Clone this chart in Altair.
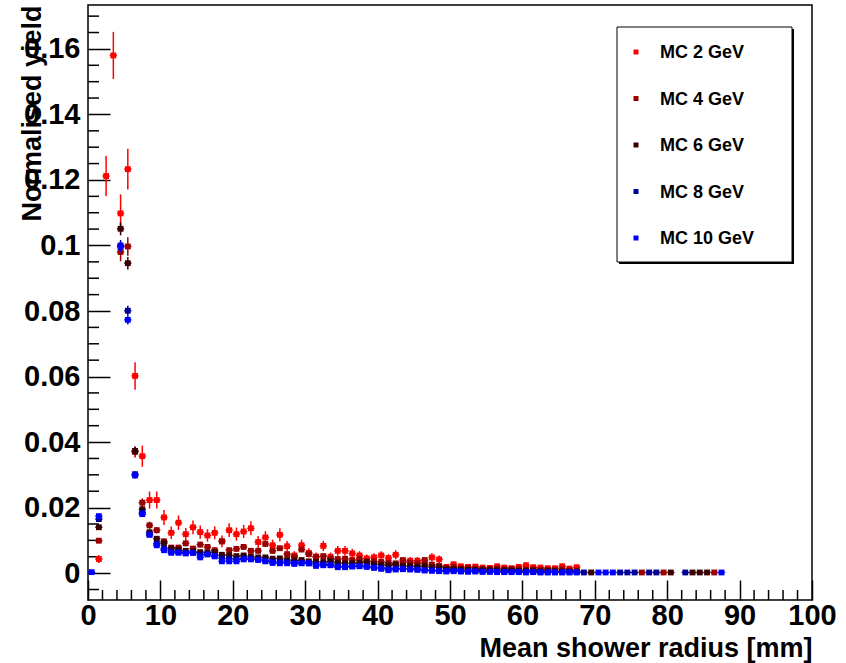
import altair as alt
import pandas as pd

# ---------------- data ----------------
# 1 mm bins, lower edge of each bin in mm
bin_lo = list(range(88))

series_names = ["MC 2 GeV", "MC 4 GeV", "MC 6 GeV", "MC 8 GeV", "MC 10 GeV"]
series_colors = ["#ff0000", "#990000", "#3a0000", "#000099", "#0000ff"]

N = None
y_2gev = [N, 0.0043, 0.1212, 0.1580, 0.1098, 0.1233, 0.0602, 0.0357, 0.0223, 0.0223,
          0.0170, 0.0123, 0.0154, 0.0119, 0.0140, 0.0125, 0.0115, 0.0123, 0.0097, 0.0131,
          0.0119, 0.0127, 0.0137, 0.0095, 0.0109, 0.0085, 0.0117, 0.0082, 0.0054, 0.0085,
          0.0062, 0.0050, 0.0083, 0.0050, 0.0068, 0.0068, 0.0060, 0.0054, 0.0045, 0.0048,
          0.0054, 0.0046, 0.0056, 0.0034, 0.0038, 0.0038, 0.0032, 0.0048, 0.0042, 0.0019,
          0.0027, 0.0021, 0.0019, 0.0020, 0.0017, 0.0016, 0.0021, 0.0017, 0.0015, 0.0019,
          0.0024, 0.0018, 0.0017, 0.0015, 0.0015, 0.0021, 0.0014, 0.0018, N, N,
          N, N, N, N, N, N, N, N, N, N,
          N, N, N, N, N, N, N, N]
e_2gev = [N, 0.0012, 0.0061, 0.0072, 0.0058, 0.0062, 0.0042, 0.0032, 0.0026, 0.0026,
          0.0023, 0.0019, 0.0022, 0.0019, 0.0021, 0.0020, 0.0019, 0.0020, 0.0018, 0.0021,
          0.0020, 0.0020, 0.0021, 0.0018, 0.0019, 0.0017, 0.0020, 0.0016, 0.0013, 0.0017,
          0.0014, 0.0013, 0.0016, 0.0013, 0.0015, 0.0015, 0.0014, 0.0013, 0.0012, 0.0013,
          0.0013, 0.0012, 0.0014, 0.0011, 0.0011, 0.0011, 0.0010, 0.0013, 0.0012, 0.0008,
          0.0009, 0.0008, 0.0008, 0.0008, 0.0008, 0.0007, 0.0008, 0.0007, 0.0007, 0.0008,
          0.0009, 0.0008, 0.0007, 0.0007, 0.0007, 0.0008, 0.0007, 0.0008, N, N,
          N, N, N, N, N, N, N, N, N, N,
          N, N, N, N, N, N, N, N]

y_4gev = [N, 0.0099, N, N, 0.0980, 0.0997, 0.0370, 0.0215, 0.0146, 0.0131,
          0.0097, 0.0078, 0.0078, 0.0091, 0.0075, 0.0087, 0.0080, 0.0070, 0.0097, 0.0070,
          0.0074, 0.0080, 0.0068, 0.0068, 0.0089, 0.0068, 0.0076, 0.0058, 0.0050, 0.0072,
          0.0058, 0.0050, 0.0052, 0.0044, 0.0043, 0.0044, 0.0040, 0.0043, 0.0036, 0.0036,
          0.0034, 0.0032, 0.0030, 0.0040, 0.0032, 0.0030, 0.0040, 0.0026, 0.0022, 0.0016,
          0.0018, 0.0015, 0.0016, 0.0014, 0.0013, 0.0013, 0.0014, 0.0012, 0.0013, 0.0012,
          0.0011, 0.0012, 0.0010, 0.0011, 0.0010, 0.0012, 0.0009, 0.0008, N, N,
          N, N, N, N, N, N, 0.0002, N, N, 0.0002,
          N, N, N, N, N, N, 0.0002, N]
e_4gev = [N, 0.0008, N, N, 0.0028, 0.0028, 0.0017, 0.0013, 0.0011, 0.0010,
          0.0009, 0.0008, 0.0008, 0.0009, 0.0008, 0.0009, 0.0008, 0.0008, 0.0009, 0.0008,
          0.0008, 0.0008, 0.0008, 0.0008, 0.0009, 0.0008, 0.0008, 0.0007, 0.0007, 0.0008,
          0.0007, 0.0007, 0.0007, 0.0006, 0.0006, 0.0006, 0.0006, 0.0006, 0.0006, 0.0006,
          0.0006, 0.0005, 0.0005, 0.0006, 0.0005, 0.0005, 0.0006, 0.0005, 0.0004, 0.0004,
          0.0004, 0.0004, 0.0004, 0.0004, 0.0004, 0.0004, 0.0004, 0.0004, 0.0004, 0.0004,
          0.0004, 0.0004, 0.0003, 0.0003, 0.0003, 0.0003, 0.0003, 0.0003, N, N,
          N, N, N, N, N, N, 0.0002, N, N, 0.0002,
          N, N, N, N, N, N, 0.0002, N]

y_6gev = [N, 0.0140, N, N, 0.1051, 0.0946, 0.0373, 0.0195, 0.0125, 0.0105,
          0.0092, 0.0075, 0.0072, 0.0068, 0.0066, 0.0064, 0.0062, 0.0064, 0.0056, 0.0054,
          0.0052, 0.0054, 0.0050, 0.0048, 0.0048, 0.0044, 0.0045, 0.0040, 0.0038, 0.0040,
          0.0036, 0.0034, 0.0034, 0.0036, 0.0032, 0.0030, 0.0030, 0.0032, 0.0034, 0.0028,
          0.0026, 0.0024, 0.0026, 0.0022, 0.0022, 0.0020, 0.0022, 0.0018, 0.0018, 0.0012,
          0.0012, 0.0011, 0.0010, 0.0010, 0.0009, 0.0009, 0.0009, 0.0008, 0.0008, 0.0007,
          0.0007, 0.0007, 0.0006, 0.0006, 0.0006, 0.0005, 0.0005, 0.0004, N, 0.0002,
          N, N, N, N, N, N, N, N, N, N,
          0.0002, N, N, 0.0002, 0.0002, 0.0002, N, N]
e_6gev = [N, 0.0008, N, N, 0.0020, 0.0019, 0.0012, 0.0009, 0.0007, 0.0007,
          0.0006, 0.0006, 0.0006, 0.0006, 0.0006, 0.0006, 0.0006, 0.0006, 0.0006, 0.0006,
          0.0006, 0.0006, 0.0006, 0.0006, 0.0006, 0.0006, 0.0006, 0.0006, 0.0006, 0.0006,
          0.0005, 0.0005, 0.0005, 0.0005, 0.0005, 0.0005, 0.0005, 0.0005, 0.0005, 0.0005,
          0.0005, 0.0005, 0.0005, 0.0005, 0.0005, 0.0005, 0.0005, 0.0005, 0.0005, 0.0005,
          0.0003, 0.0003, 0.0003, 0.0003, 0.0003, 0.0003, 0.0003, 0.0003, 0.0003, 0.0003,
          0.0003, 0.0003, 0.0003, 0.0003, 0.0003, 0.0003, 0.0003, 0.0003, N, 0.0002,
          N, N, N, N, N, N, N, N, N, N,
          0.0002, N, N, 0.0002, 0.0002, 0.0002, N, N]

y_8gev = [N, 0.0165, N, N, 0.1000, 0.0801, 0.0302, 0.0185, 0.0118, 0.0090,
          0.0075, 0.0066, 0.0064, 0.0062, 0.0062, 0.0056, 0.0058, 0.0053, 0.0045, 0.0044,
          0.0042, 0.0045, 0.0044, 0.0042, 0.0038, 0.0036, 0.0034, 0.0034, 0.0032, 0.0032,
          0.0030, 0.0027, 0.0027, 0.0026, 0.0022, 0.0021, 0.0022, 0.0022, 0.0021, 0.0018,
          0.0016, 0.0013, 0.0014, 0.0014, 0.0013, 0.0012, 0.0010, 0.0009, 0.0008, 0.0007,
          0.0007, 0.0006, 0.0006, 0.0006, 0.0005, 0.0005, 0.0005, 0.0004, 0.0004, 0.0004,
          0.0004, 0.0004, 0.0003, 0.0003, 0.0003, 0.0003, 0.0003, 0.0003, 0.0002, N,
          N, N, N, 0.0002, 0.0002, 0.0002, N, 0.0002, 0.0002, N,
          N, N, 0.0002, N, N, N, N, N]
e_8gev = [N, 0.0007, N, N, 0.0017, 0.0015, 0.0009, 0.0007, 0.0006, 0.0005,
          0.0005, 0.0005, 0.0005, 0.0005, 0.0005, 0.0005, 0.0005, 0.0005, 0.0005, 0.0005,
          0.0005, 0.0005, 0.0005, 0.0005, 0.0005, 0.0005, 0.0005, 0.0005, 0.0005, 0.0005,
          0.0004, 0.0004, 0.0004, 0.0004, 0.0004, 0.0004, 0.0004, 0.0004, 0.0004, 0.0004,
          0.0004, 0.0004, 0.0004, 0.0004, 0.0004, 0.0004, 0.0004, 0.0004, 0.0004, 0.0004,
          0.0002, 0.0002, 0.0002, 0.0002, 0.0002, 0.0002, 0.0002, 0.0002, 0.0002, 0.0002,
          0.0002, 0.0002, 0.0002, 0.0002, 0.0002, 0.0002, 0.0002, 0.0002, 0.0002, N,
          N, N, N, 0.0002, 0.0002, 0.0002, N, 0.0002, 0.0002, N,
          N, N, 0.0002, N, N, N, N, N]

y_10gev = [0.0003, 0.0174, N, N, 0.0996, 0.0773, 0.0298, 0.0180, 0.0117, 0.0085,
           0.0070, 0.0062, 0.0062, 0.0060, 0.0062, 0.0048, 0.0057, 0.0051, 0.0036, 0.0036,
           0.0036, 0.0042, 0.0042, 0.0040, 0.0036, 0.0031, 0.0030, 0.0030, 0.0028, 0.0030,
           0.0030, 0.0022, 0.0024, 0.0024, 0.0018, 0.0018, 0.0020, 0.0021, 0.0019, 0.0016,
           0.0013, 0.0009, 0.0011, 0.0012, 0.0011, 0.0010, 0.0008, 0.0007, 0.0006, 0.0005,
           0.0006, 0.0005, 0.0004, 0.0005, 0.0004, 0.0004, 0.0003, 0.0003, 0.0003, 0.0003,
           0.0002, 0.0003, 0.0002, 0.0002, 0.0002, 0.0002, 0.0002, 0.0002, N, N,
           0.0002, 0.0002, 0.0002, N, N, N, N, N, N, N,
           N, N, N, N, N, N, N, 0.0002]
e_10gev = [0.0002, 0.0007, N, N, 0.0016, 0.0014, 0.0009, 0.0007, 0.0005, 0.0005,
           0.0004, 0.0004, 0.0004, 0.0004, 0.0004, 0.0004, 0.0004, 0.0004, 0.0004, 0.0004,
           0.0004, 0.0004, 0.0004, 0.0004, 0.0004, 0.0004, 0.0004, 0.0004, 0.0004, 0.0004,
           0.0003, 0.0003, 0.0003, 0.0003, 0.0003, 0.0003, 0.0003, 0.0003, 0.0003, 0.0003,
           0.0003, 0.0003, 0.0003, 0.0003, 0.0003, 0.0003, 0.0003, 0.0003, 0.0003, 0.0003,
           0.0002, 0.0002, 0.0002, 0.0002, 0.0002, 0.0002, 0.0002, 0.0002, 0.0002, 0.0002,
           0.0002, 0.0002, 0.0002, 0.0002, 0.0002, 0.0002, 0.0002, 0.0002, N, N,
           0.0002, 0.0002, 0.0002, N, N, N, N, N, N, N,
           N, N, N, N, N, N, N, 0.0002]

x_tick_values = [0, 10, 20, 30, 40, 50, 60, 70, 80, 90, 100]
y_tick_values = [0, 0.02, 0.04, 0.06, 0.08, 0.1, 0.12, 0.14, 0.16]
x_minor_ticks = [v for v in range(2, 100, 2) if v % 10 != 0]
y_minor_ticks = [k * 0.005 for k in range(-1, 35) if k % 4 != 0]

# ---------------- build table ----------------
all_y = [y_2gev, y_4gev, y_6gev, y_8gev, y_10gev]
all_e = [e_2gev, e_4gev, e_6gev, e_8gev, e_10gev]
rows = []
for name, ys, es in zip(series_names, all_y, all_e):
    for lo, yv, ev in zip(bin_lo, ys, es):
        if yv is None:
            continue
        ev = ev or 0.0
        rows.append({"series": name, "x": lo + 0.5, "xlo": lo, "xhi": lo + 1,
                     "y": yv, "ylo": yv - ev, "yhi": yv + ev})
df = pd.DataFrame(rows)
legend_df = pd.DataFrame({"series": series_names, "row": list(range(len(series_names)))})

W, H = 724, 595
FONT = "Liberation Sans"

xscale = alt.Scale(domain=[0, 100], nice=False, zero=False)
yscale = alt.Scale(domain=[-0.0082, 0.1734], nice=False, zero=False)
cscale = alt.Scale(domain=series_names, range=series_colors)
color_enc = alt.Color("series:N", scale=cscale, legend=None)

x_axis = alt.Axis(values=x_tick_values, format="d", tickSize=20, offset=-20,
                  domain=False, grid=False, tickColor="black", tickWidth=1.5,
                  labelFont=FONT, labelFontWeight="bold", labelFontSize=29,
                  labelColor="black", labelPadding=1, labelFlush=False,
                  labelOverlap=False, labelBound=False,
                  title="Mean shower radius [mm]", titleFont=FONT,
                  titleFontWeight="bold", titleFontSize=27, titleColor="black",
                  titleAnchor="end", titleAlign="right", titleX=W,
                  titleY=76, titleBaseline="alphabetic")
y_axis = alt.Axis(values=y_tick_values, format="~g", tickSize=22, offset=-22,
                  domain=False, grid=False, tickColor="black", tickWidth=1.5,
                  labelFont=FONT, labelFontWeight="bold", labelFontSize=29,
                  labelColor="black", labelPadding=8, labelFlush=False,
                  labelOverlap=False, labelBound=False,
                  title="Normalised yield", titleFont=FONT,
                  titleFontWeight="bold", titleFontSize=27, titleColor="black",
                  titleAngle=270, titleAlign="right", titleBaseline="alphabetic",
                  titleX=-70, titleY=0)

# legend frame
one = pd.DataFrame({"a": [0]})
shadow = alt.Chart(one).mark_rect(fill="black").encode(
    x=alt.value(531), x2=alt.value(706), y=alt.value(24), y2=alt.value(259))
box = alt.Chart(one).mark_rect(fill="white", stroke="black", strokeWidth=1).encode(
    x=alt.value(529), x2=alt.value(704), y=alt.value(22), y2=alt.value(257))
row_offset = alt.YOffset("row:Q", scale=alt.Scale(domain=[0, 4], range=[0, 186]))
leg_sym = alt.Chart(legend_df).mark_square(size=25, opacity=1, filled=True).encode(
    x=alt.value(548), y=alt.value(47), yOffset=row_offset, color=color_enc)
leg_txt = alt.Chart(legend_df).mark_text(
    align="left", baseline="middle", font=FONT, fontWeight="bold",
    fontSize=18, color="black", dy=1).encode(
    x=alt.value(572), y=alt.value(47), yOffset=row_offset, text="series:N")

layers = []
base_first = True
for name in series_names:
    src = alt.Chart(df).transform_filter(alt.datum.series == name)
    if base_first:
        xenc = alt.X("x:Q", scale=xscale, axis=x_axis)
        yenc = alt.Y("ylo:Q", scale=yscale, axis=y_axis)
        base_first = False
    else:
        xenc = alt.X("x:Q", scale=xscale)
        yenc = alt.Y("ylo:Q", scale=yscale)
    vbar = src.mark_rule(strokeWidth=1.5).encode(
        x=xenc, y=yenc, y2="yhi:Q", color=color_enc)
    hbar = src.mark_rule(strokeWidth=1.5).encode(
        x=alt.X("xlo:Q", scale=xscale), x2="xhi:Q",
        y=alt.Y("y:Q", scale=yscale), color=color_enc)
    pts = src.mark_square(size=34, opacity=1, filled=True).encode(
        x=alt.X("x:Q", scale=xscale), y=alt.Y("y:Q", scale=yscale),
        color=color_enc)
    layers += [vbar, hbar, pts]

xminor = alt.Chart(pd.DataFrame({"v": x_minor_ticks})).mark_rule(
    color="black", strokeWidth=1.5).encode(
    x=alt.X("v:Q", scale=xscale), y=alt.value(H), y2=alt.value(H - 10))
yminor = alt.Chart(pd.DataFrame({"v": y_minor_ticks})).mark_rule(
    color="black", strokeWidth=1.5).encode(
    y=alt.Y("v:Q", scale=yscale), x=alt.value(0), x2=alt.value(11))

chart = alt.layer(xminor, yminor, *layers, shadow, box, leg_sym, leg_txt).properties(
    width=W, height=H,
    autosize=alt.AutoSizeParams(type="none"),
    padding={"left": 88, "top": 5, "right": 34, "bottom": 63},
    background="white",
).configure_view(stroke="black", strokeWidth=1.5)

chart.save("out.html", embed_options={"renderer": "svg", "actions": False})
